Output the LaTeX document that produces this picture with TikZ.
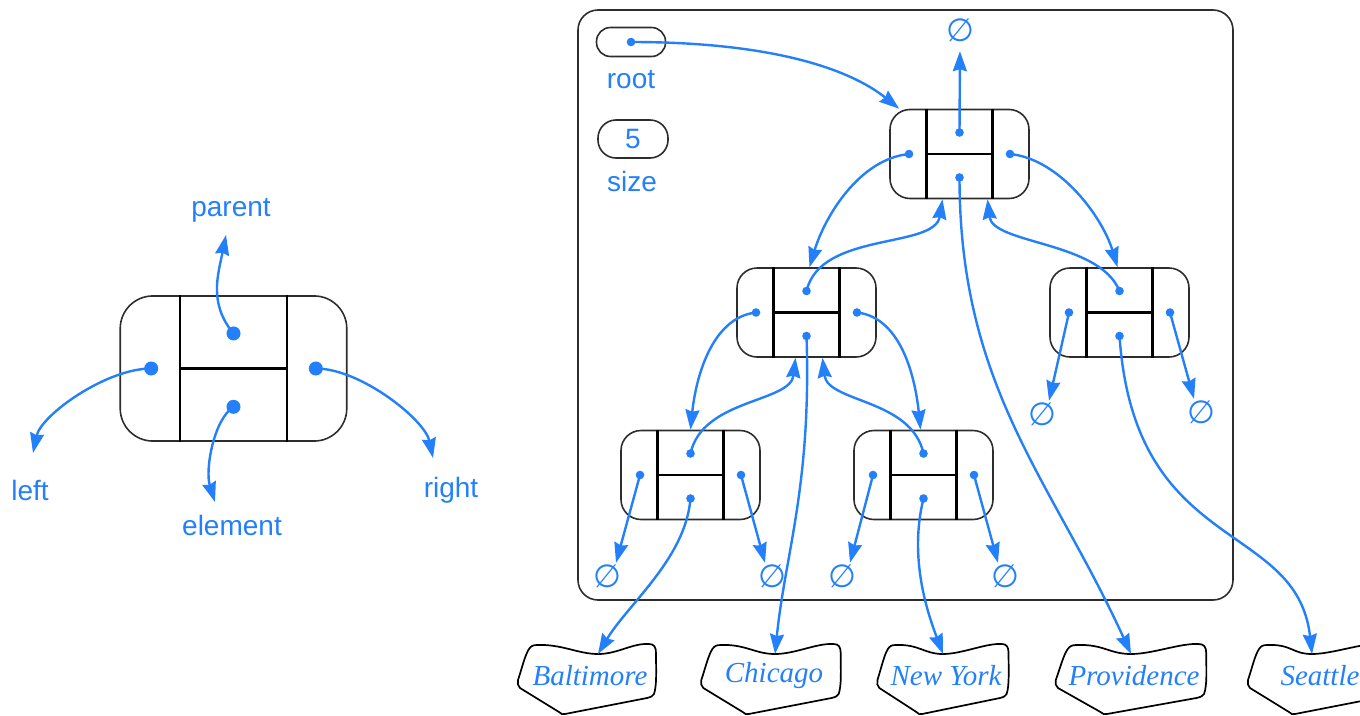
\documentclass[tikz,border=0pt]{standalone}
\usepackage{fontspec}
\setmainfont{Liberation Sans}
\newfontfamily\cityfont{Liberation Serif}
\newfontfamily\symfont{DejaVu Sans}
\usetikzlibrary{calc,arrows.meta}
\definecolor{ablue}{RGB}{35,128,250}
\definecolor{edgec}{RGB}{45,45,45}
\tikzset{
 tbox/.style={draw=edgec, line width=1.6pt, rectangle, inner sep=0pt},
 divider/.style={draw=black, line width=2.4pt},
 arr/.style={draw=ablue, line width=2.4pt, -{Stealth[length=20pt,width=14pt,inset=2pt]}},
 lbl/.style={text=ablue, font=\fontsize{28}{28}\selectfont, inner sep=0pt},
 nul/.style={text=ablue, font=\symfont\fontsize{32}{32}\selectfont, inner sep=1pt, text height=23pt, text depth=1pt},
 citytext/.style={text=ablue, font=\cityfont\itshape\fontsize{29}{29}\selectfont, inner sep=0pt},
 blob/.style={draw=black, line width=1.7pt},
 frame/.style={draw=edgec, line width=1.6pt, rounded corners=20pt},
}
\newcommand\bst[4]{%
 \pgfmathsetmacro\bstw{139*#4}%
 \pgfmathsetmacro\bsth{89*#4}%
 \pgfmathsetmacro\bstr{20*#4}%
 \pgfmathsetmacro\bstd{33*#4}%
 \pgfmathsetmacro\bstx{50.5*#4}%
 \pgfmathsetmacro\bstp{21.5*#4}%
 \pgfmathsetmacro\bste{23.5*#4}%
 \pgfmathsetmacro\bstdot{4.3*#4}%
 \node[tbox, minimum width=\bstw pt, minimum height=\bsth pt, rounded corners=\bstr pt] (#1) at (#2,#3) {};
 \draw[divider] ($(#1.north)+(-\bstd,0)$) -- ($(#1.south)+(-\bstd,0)$);
 \draw[divider] ($(#1.north)+(\bstd,0)$) -- ($(#1.south)+(\bstd,0)$);
 \draw[divider] ($(#1.center)+(-\bstd,0)$) -- ($(#1.center)+(\bstd,0)$);
 \coordinate (#1-l) at ($(#1.center)+(-\bstx,0)$);
 \coordinate (#1-r) at ($(#1.center)+(\bstx,0)$);
 \coordinate (#1-p) at ($(#1.center)+(0,-\bstp)$);
 \coordinate (#1-e) at ($(#1.center)+(0,\bste)$);
 \fill[ablue] (#1-l) circle[radius=\bstdot];
 \fill[ablue] (#1-r) circle[radius=\bstdot];
 \fill[ablue] (#1-p) circle[radius=\bstdot];
 \fill[ablue] (#1-e) circle[radius=\bstdot];
}
% name, x, y, text, xscale, dip offset
\newcommand\city[6]{%
 \node[citytext] (#1) at (#2,#3) {#4};
 \begin{scope}[shift={(#1.center)}, xshift=-3pt, yshift=-4pt, xscale=#5]
 \draw[blob] (-69,0) .. controls (-65,-12) and (-62,-25) .. (-58,-31)
   .. controls (-56,-34) and (-54,-35) .. (-50,-35)
   .. controls (-25,-36) and ({#6-20},-26) .. (#6,-26)
   .. controls ({#6+20},-26) and (45,-37) .. (62,-36)
   .. controls (67,-36) and (69,-33) .. (69,-27)
   .. controls (69,-10) and (70,5) .. (67,14)
   .. controls (66,16) and (64,17) .. (60,18)
   -- (-22,34) .. controls (-24,35) and (-26,34) .. (-28,32)
   -- (-67,8) .. controls (-69,6) and (-70,3) .. (-69,0) -- cycle;
 \coordinate (#1-in) at (#6,-26);
 \end{scope}}
\begin{document}
\begin{tikzpicture}[x=1pt,y=-1pt]
\useasboundingbox (0,0) rectangle (1360,715);
% ---------- left: single node ----------
\bst{big}{233.5}{368.5}{1.63}
\node[lbl] (parentlbl) at (231,210) {parent};
\node[lbl] (leftlbl) at (30,490) {left};
\node[lbl] (elementlbl) at (232,525) {element};
\node[lbl] (rightlbl) at (451,490) {right};
\coordinate (bigPt) at (226,235);
\coordinate (bigEt) at (215,502);
\coordinate (bigLt) at (33,453);
\coordinate (bigRt) at (433,458);
\draw[arr] (big-p) .. controls +(-25,-30) and +(-8,40) .. (bigPt);
\draw[arr] (big-e) .. controls +(-20,13) and +(-10,-32) .. (bigEt);
\draw[arr] (big-l) .. controls +(-45,0) and +(8,-38) .. (bigLt);
\draw[arr] (big-r) .. controls +(45,0) and +(-8,-38) .. (bigRt);
% ---------- right: tree ----------
\draw[frame] (578,10) rectangle (1233,600);
\node[tbox, minimum width=69pt, minimum height=29pt, rounded corners=14pt] (rootbox) at (631,42) {};
\coordinate (rootdot) at (rootbox.center);
\fill[ablue] (rootdot) circle[radius=4.3];
\node[lbl] (rootlbl) at (631,80) {root};
\node[tbox, minimum width=70pt, minimum height=38pt, rounded corners=18pt, text=ablue, font=\fontsize{28}{28}\selectfont] (sizebox) at (633,139) {5};
\node[lbl] (sizelbl) at (632,181) {size};
\bst{T}{959.5}{154}{1}
\bst{A}{806.5}{312.5}{1}
\bst{C}{1119.5}{312.5}{1}
\bst{B}{690.5}{475}{1}
\bst{N}{923.5}{475}{1}
\node[nul] (n0) at (960,30) {∅};
\node[nul] (nCl) at (1042,414) {∅};
\node[nul] (nCr) at (1201,412) {∅};
\node[nul] (nBl) at (607,576) {∅};
\node[nul] (nBr) at (772,576) {∅};
\node[nul] (nNl) at (842,576) {∅};
\node[nul] (nNr) at (1005,576) {∅};
\city{Bal}{590}{676}{Baltimore}{1.0}{11}
\city{Chi}{774}{676}{Chicago}{1.01}{4}
\city{NY}{946}{676}{New York}{0.95}{0}
\city{Pro}{1134}{676}{Providence}{1.09}{0}
\city{Sea}{1320}{676}{Seattle}{1.0}{-5}
% arrows
\draw[arr] (rootdot) .. controls +(140,0) and +(-50,-40) .. ([xshift=10pt]T.north west);
\draw[arr, shorten >=8pt] (T-p) -- (n0.south);
\draw[arr] (T-l) .. controls +(-50,5) and +(15,-50) .. ([xshift=3pt]A.north);
\draw[arr] (T-r) .. controls +(50,5) and +(-15,-50) .. ([xshift=-2pt]C.north);
\draw[arr] (A-p) .. controls +(14,-60) and +(-8,50) .. ([xshift=-17pt]T.south);
\draw[arr] (C-p) .. controls +(-20,-50) and +(5,45) .. ([xshift=28pt]T.south);
\draw[arr] (A-l) .. controls +(-45,5) and +(5,-50) .. (B.north);
\draw[arr] (A-r) .. controls +(45,5) and +(-5,-50) .. ([xshift=-3pt]N.north);
\draw[arr] (B-p) .. controls +(12,-55) and +(-5,45) .. ([xshift=-11pt]A.south);
\draw[arr] (N-p) .. controls +(-12,-55) and +(5,45) .. ([xshift=16pt]A.south);
\draw[arr] (C-l) -- ([xshift=7pt]nCl.north);
\draw[arr] (C-r) -- ([xshift=-7pt]nCr.north);
\draw[arr] (B-l) -- ([xshift=9pt]nBl.north);
\draw[arr] (B-r) -- ([xshift=-7pt]nBr.north);
\draw[arr] (N-l) -- ([xshift=8pt]nNl.north);
\draw[arr] (N-r) -- ([xshift=-7pt]nNr.north);
\draw[arr] (T-e) .. controls +(0,210) and +(-80,-175) .. (Pro-in);
\draw[arr] (C-e) .. controls +(15,220) and +(-15,-135) .. (Sea-in);
\draw[arr] (A-e) .. controls +(5,150) and +(10,-100) .. (Chi-in);
\draw[arr] (B-e) .. controls +(-5,60) and +(30,-50) .. (Bal-in);
\draw[arr] (N-e) .. controls +(-15,60) and +(-15,-40) .. (NY-in);
\end{tikzpicture}
\end{document}
